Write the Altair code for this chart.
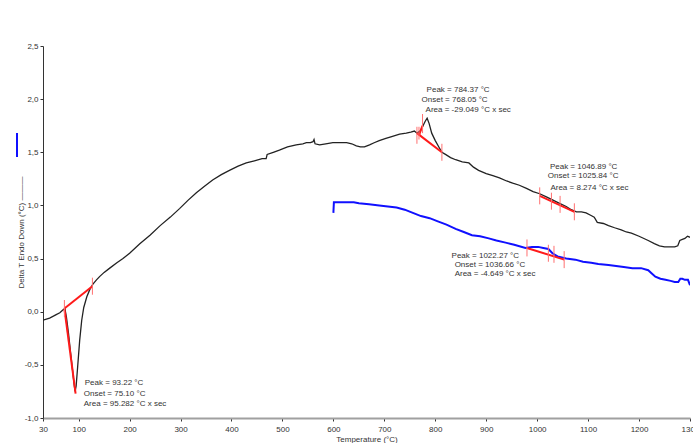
import altair as alt
import pandas as pd

# ---- DTA curve (black) ----
black_T = [30, 43, 55, 63, 70, 73, 76, 80, 84, 88, 91, 93, 95, 98, 102, 106, 110, 116, 122, 128,
           135, 141, 150, 161, 175, 187, 200, 220, 240, 260, 280, 298, 315, 331, 347, 363, 380, 396,
           413, 429, 445, 460, 468, 470, 482, 494, 510, 527, 540, 547, 555, 560, 562, 564, 573, 585,
           599, 612, 626, 636, 645, 653, 661, 666, 671, 680, 690, 703, 716, 730, 743, 752, 759, 764,
           770, 775, 780, 784, 788, 793, 800, 807, 813, 820, 830, 840, 853, 866, 875, 885, 900, 913,
           926, 940, 952, 965, 979, 992, 1005, 1018, 1031, 1044, 1057, 1067, 1077, 1087, 1096, 1104,
           1112, 1118, 1130, 1140, 1152, 1165, 1175, 1185, 1200, 1218, 1230, 1240, 1250, 1260, 1270,
           1276, 1280, 1285, 1290, 1295, 1300]
black_V = [-0.08, -0.06, -0.03, -0.01, 0.02, 0.03, -0.05, -0.20, -0.38, -0.55, -0.68, -0.75, -0.70,
           -0.52, -0.27, -0.08, 0.04, 0.14, 0.21, 0.26, 0.30, 0.33, 0.37, 0.41, 0.46, 0.50, 0.55, 0.64,
           0.72, 0.81, 0.89, 0.97, 1.05, 1.12, 1.18, 1.24, 1.29, 1.33, 1.37, 1.40, 1.42, 1.44, 1.44,
           1.48, 1.50, 1.52, 1.55, 1.57, 1.58, 1.59, 1.59, 1.60, 1.62, 1.58, 1.57, 1.58, 1.59, 1.59,
           1.59, 1.58, 1.56, 1.55, 1.55, 1.56, 1.57, 1.59, 1.61, 1.63, 1.65, 1.67, 1.68, 1.69, 1.70,
           1.68, 1.70, 1.74, 1.79, 1.82, 1.77, 1.68, 1.61, 1.55, 1.50, 1.48, 1.45, 1.43, 1.41, 1.40,
           1.36, 1.33, 1.30, 1.28, 1.26, 1.23, 1.21, 1.19, 1.16, 1.13, 1.11, 1.08, 1.05, 1.02, 0.99,
           0.96, 0.94, 0.94, 0.93, 0.91, 0.89, 0.84, 0.83, 0.81, 0.79, 0.77, 0.75, 0.74, 0.71, 0.67,
           0.64, 0.62, 0.61, 0.61, 0.61, 0.62, 0.67, 0.68, 0.69, 0.71, 0.70]

# ---- second curve (blue) ----
blue_T = [600, 601, 620, 640, 650, 670, 690, 707, 724, 740, 756, 772, 789, 805, 822, 840, 856, 872,
          888, 905, 920, 938, 955, 977, 990, 1002, 1012, 1022, 1030, 1040, 1057, 1075, 1090, 1106,
          1120, 1140, 1155, 1170, 1187, 1204, 1218, 1225, 1232, 1242, 1252, 1262, 1270, 1277, 1281,
          1285, 1290, 1296, 1300]
blue_V = [0.93, 1.03, 1.03, 1.03, 1.02, 1.01, 1.00, 0.99, 0.98, 0.96, 0.93, 0.90, 0.88, 0.85, 0.82,
          0.78, 0.75, 0.72, 0.71, 0.69, 0.67, 0.65, 0.63, 0.60, 0.61, 0.61, 0.60, 0.59, 0.55, 0.52,
          0.50, 0.49, 0.47, 0.46, 0.45, 0.44, 0.43, 0.42, 0.41, 0.41, 0.39, 0.36, 0.33, 0.31, 0.30,
          0.29, 0.28, 0.28, 0.31, 0.31, 0.30, 0.30, 0.25]

# ---- red evaluation lines ----
red_seg = ["a", "a", "b", "b", "c", "c", "d", "d", "e", "e", "f", "f"]
red_T = [72, 127, 72, 94, 764, 813, 768, 775, 1005, 1073, 980, 1053]
red_V = [0.03, 0.24, 0.03, -0.77, 1.68, 1.50, 1.66, 1.75, 1.09, 0.94, 0.60, 0.49]

# ---- red limit ticks ----
tick_T = [72, 127, 764, 768, 775, 813, 1005, 1028, 1045, 1073, 980, 1022, 1033, 1053]
tick_V1 = [-0.05, 0.16, 1.58, 1.62, 1.68, 1.42, 1.01, 0.96, 0.93, 0.86, 0.52, 0.47, 0.46, 0.41]
tick_V2 = [0.11, 0.32, 1.74, 1.74, 1.86, 1.58, 1.17, 1.12, 1.09, 1.02, 0.68, 0.63, 0.62, 0.57]

# ---- annotations ----
ann_text = ["Peak = 93.22 °C", "Onset = 75.10 °C", "Area = 95.282 °C x sec",
            "Peak = 784.37 °C", "Onset = 768.05 °C", "Area = -29.049 °C x sec",
            "Peak = 1046.89 °C", "Onset = 1025.84 °C", "Area = 8.274 °C x sec",
            "Peak = 1022.27 °C", "Onset = 1036.66 °C", "Area = -4.649 °C x sec"]
ann_T = [112, 110, 110, 783, 773, 781, 1025, 1021, 1026, 832, 838, 838]
ann_V = [-0.67, -0.77, -0.87, 2.09, 1.99, 1.90, 1.36, 1.28, 1.16, 0.52, 0.44, 0.355]

x_ticks = [30, 100, 200, 300, 400, 500, 600, 700, 800, 900, 1000, 1100, 1200, 1300]
y_ticks = [-1.0, -0.5, 0.0, 0.5, 1.0, 1.5, 2.0, 2.5]

FONT = "Liberation Sans"

black = pd.DataFrame({"T": black_T, "v": black_V, "i": range(len(black_T))})
blue = pd.DataFrame({"T": blue_T, "v": blue_V, "i": range(len(blue_T))})
red = pd.DataFrame({"T": red_T, "v": red_V, "seg": red_seg})
ticks = pd.DataFrame({"T": tick_T, "v": tick_V1, "v2": tick_V2})
ann = pd.DataFrame({"T": ann_T, "v": ann_V, "label": ann_text})

X = alt.X("T:Q", scale=alt.Scale(domain=[30, 1300], nice=False, zero=False),
          axis=alt.Axis(values=x_ticks, format="d", title="Temperature (°C)",
                        domainColor="#a0a0a0", domainWidth=2, tickColor="#333",
                        tickSize=3, labelPadding=4, titlePadding=2, grid=False,
                        labelFontSize=8, titleFontSize=8, labelFont=FONT, titleFont=FONT,
                        titleFontWeight="normal", labelColor="#333", titleColor="#333",
                        labelFlush=False, labelOverlap=False))
Y = alt.Y("v:Q", scale=alt.Scale(domain=[-1.0, 2.5], nice=False, zero=False),
          axis=alt.Axis(values=y_ticks, title="Delta T Endo Down (°C) ———",
                        labelExpr="replace(replace(format(datum.value, '.1f'), '.', ','), '\u2212', '-')",
                        domainColor="#333", domainWidth=1, tickColor="#333", tickSize=3,
                        labelPadding=2, grid=False, labelFontSize=8, titleFontSize=8,
                        labelFont=FONT, titleFont=FONT, titleFontWeight="normal",
                        labelColor="#333", titleColor="#333", titleX=-22, titleY=186,
                        titleAngle=-90, titleAlign="center", titleBaseline="middle"))

l_black = alt.Chart(black).mark_line(color="#222222", strokeWidth=1.3, clip=True).encode(
    x=X, y=Y, order="i:Q")
l_blue = alt.Chart(blue).mark_line(color="#1010ff", strokeWidth=2, clip=True).encode(
    x=X, y=Y, order="i:Q")
l_red = alt.Chart(red).mark_line(color="#ff1a1a", strokeWidth=2).encode(
    x=X, y=Y, detail="seg:N")
l_ticks = alt.Chart(ticks).mark_rule(color="#ff7070", strokeWidth=1).encode(
    x=X, y=Y, y2="v2:Q")
l_ann = alt.Chart(ann).mark_text(align="left", baseline="middle", fontSize=8, font=FONT,
                                 color="#333").encode(x=X, y=Y, text="label:N")
l_legend = alt.Chart(pd.DataFrame({"k": [1]})).mark_rule(color="#1010ff", strokeWidth=2).encode(
    x=alt.value(-26), y=alt.value(87), y2=alt.value(111))

chart = alt.layer(l_black, l_blue, l_red, l_ticks, l_ann, l_legend).properties(
    width=647, height=372, autosize="none",
    padding={"left": 43, "top": 46, "right": 3, "bottom": 25},
    background="white",
).configure_view(stroke=None)

chart.save("out.html", embed_options={"renderer": "svg", "actions": False})
